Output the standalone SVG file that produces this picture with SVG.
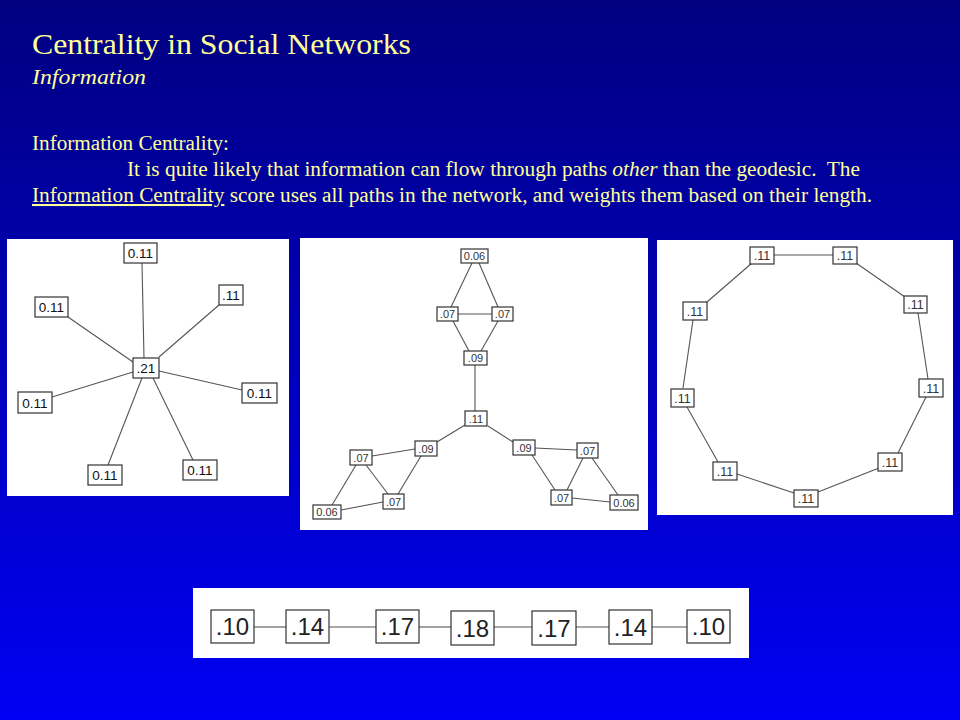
<svg xmlns="http://www.w3.org/2000/svg" width="960" height="720" viewBox="0 0 960 720">
<defs>
<linearGradient id="bg" x1="0" y1="0" x2="0" y2="1">
<stop offset="0" stop-color="#000080"/>
<stop offset="1" stop-color="#0000f4"/>
</linearGradient>
<style>
.t{font-family:"Liberation Serif","Times New Roman",serif;fill:#ffff99}
.panel{fill:#ffffff}
.box{fill:#ffffff;stroke:#333333;stroke-width:1.2}
.e{stroke:#555555;stroke-width:1.1;fill:none}
.lbl{font-family:"Liberation Sans",Arial,sans-serif;fill:#111111;text-anchor:middle}
.s1{font-size:13.5px}
.s2{font-size:11px;fill:#333}
.s3{font-size:12.5px;fill:#333}
.s4{font-size:24px;fill:#222}
</style>
</defs>
<rect width="960" height="720" fill="url(#bg)"/>

<g id="title">
<text class="t" x="32" y="54" font-size="29" textLength="379" lengthAdjust="spacingAndGlyphs">Centrality in Social Networks</text>
<text class="t" x="32" y="84" font-size="22" font-style="italic" textLength="114" lengthAdjust="spacingAndGlyphs">Information</text>
<text class="t" x="32" y="150" font-size="20.5" textLength="197" lengthAdjust="spacingAndGlyphs">Information Centrality:</text>
<text class="t" x="127" y="176" font-size="20.5" xml:space="preserve" textLength="733" lengthAdjust="spacingAndGlyphs">It is quite likely that information can flow through paths <tspan font-style="italic">other</tspan> than the geodesic.  The</text>
<text class="t" x="32" y="202" font-size="20.5" textLength="840" lengthAdjust="spacingAndGlyphs"><tspan text-decoration="underline">Information Centrality</tspan> score uses all paths in the network, and weights them based on their length.</text>
</g>

<!-- Panel 1: star -->
<rect class="panel" x="7" y="239" width="282" height="257"/>
<g id="star-edges">
<line class="e" x1="144" y1="358" x2="142" y2="263"/>
<line class="e" x1="159" y1="357" x2="219" y2="305"/>
<line class="e" x1="133" y1="362" x2="68" y2="317"/>
<line class="e" x1="159" y1="371" x2="242" y2="390"/>
<line class="e" x1="133" y1="372" x2="52" y2="397"/>
<line class="e" x1="142" y1="378" x2="108" y2="465"/>
<line class="e" x1="153" y1="378" x2="193" y2="460"/>
</g>
<g id="s-center"><rect class="box" x="133" y="358" width="26" height="20"/><text class="lbl s1" x="146" y="373">.21</text></g>
<g id="s-top"><rect class="box" x="124" y="243" width="33" height="20"/><text class="lbl s1" x="140.5" y="258">0.11</text></g>
<g id="s-tr"><rect class="box" x="219" y="285" width="24" height="20"/><text class="lbl s1" x="231" y="300">.11</text></g>
<g id="s-ul"><rect class="box" x="35" y="297" width="33" height="20"/><text class="lbl s1" x="51.5" y="312">0.11</text></g>
<g id="s-r"><rect class="box" x="242" y="383" width="35" height="20"/><text class="lbl s1" x="259.5" y="398">0.11</text></g>
<g id="s-ll"><rect class="box" x="18" y="392" width="34" height="21"/><text class="lbl s1" x="35" y="407.5">0.11</text></g>
<g id="s-b"><rect class="box" x="88" y="465" width="34" height="20"/><text class="lbl s1" x="105" y="480">0.11</text></g>
<g id="s-br"><rect class="box" x="183" y="460" width="34" height="20"/><text class="lbl s1" x="200" y="475">0.11</text></g>

<!-- Panel 2: three clusters -->
<rect class="panel" x="300" y="238" width="348" height="292"/>
<g id="mid-edges">
<line class="e" x1="472" y1="263" x2="451" y2="307"/>
<line class="e" x1="479" y1="263" x2="498" y2="307"/>
<line class="e" x1="458" y1="314" x2="492" y2="314"/>
<line class="e" x1="453" y1="321" x2="469" y2="351"/>
<line class="e" x1="498" y1="321" x2="481" y2="351"/>
<line class="e" x1="475" y1="365" x2="475" y2="411"/>
<line class="e" x1="465" y1="425" x2="437" y2="442"/>
<line class="e" x1="488" y1="426" x2="513" y2="442"/>
<line class="e" x1="415" y1="449" x2="372" y2="456"/>
<line class="e" x1="421" y1="456" x2="398" y2="494"/>
<line class="e" x1="366" y1="465" x2="388" y2="494"/>
<line class="e" x1="356" y1="465" x2="332" y2="505"/>
<line class="e" x1="341" y1="510" x2="383" y2="502"/>
<line class="e" x1="535" y1="448" x2="577" y2="450"/>
<line class="e" x1="532" y1="455" x2="555" y2="490"/>
<line class="e" x1="583" y1="458" x2="567" y2="490"/>
<line class="e" x1="592" y1="458" x2="618" y2="495"/>
<line class="e" x1="572" y1="498" x2="610" y2="502"/>
</g>
<g id="m-top"><rect class="box" x="461" y="249" width="27" height="14"/><text class="lbl s2" x="474.5" y="260">0.06</text></g>
<g id="m-07l"><rect class="box" x="437" y="307" width="21" height="14"/><text class="lbl s2" x="447.5" y="318">.07</text></g>
<g id="m-07r"><rect class="box" x="492" y="307" width="21" height="14"/><text class="lbl s2" x="502.5" y="318">.07</text></g>
<g id="m-09t"><rect class="box" x="464" y="351" width="23" height="14"/><text class="lbl s2" x="475.5" y="362">.09</text></g>
<g id="m-11"><rect class="box" x="465" y="411" width="22" height="15"/><text class="lbl s2" x="476" y="422.5">.11</text></g>
<g id="m-09l"><rect class="box" x="415" y="441" width="22" height="15"/><text class="lbl s2" x="426" y="452.5">.09</text></g>
<g id="m-07ll"><rect class="box" x="350" y="450" width="22" height="15"/><text class="lbl s2" x="361" y="461.5">.07</text></g>
<g id="m-07lb"><rect class="box" x="383" y="494" width="21" height="15"/><text class="lbl s2" x="393.5" y="505.5">.07</text></g>
<g id="m-06l"><rect class="box" x="313" y="505" width="28" height="14"/><text class="lbl s2" x="327" y="516">0.06</text></g>
<g id="m-09r"><rect class="box" x="513" y="440" width="22" height="15"/><text class="lbl s2" x="524" y="451.5">.09</text></g>
<g id="m-07rr"><rect class="box" x="577" y="443" width="21" height="15"/><text class="lbl s2" x="587.5" y="454.5">.07</text></g>
<g id="m-07rb"><rect class="box" x="551" y="490" width="21" height="15"/><text class="lbl s2" x="561.5" y="501.5">.07</text></g>
<g id="m-06r"><rect class="box" x="610" y="495" width="28" height="15"/><text class="lbl s2" x="624" y="506.5">0.06</text></g>

<!-- Panel 3: ring -->
<rect class="panel" x="657" y="240" width="296" height="275"/>
<g id="ring-edges">
<line class="e" x1="774" y1="255" x2="833" y2="255"/>
<line class="e" x1="856" y1="263" x2="905" y2="297"/>
<line class="e" x1="918" y1="313" x2="928" y2="379"/>
<line class="e" x1="926" y1="397" x2="898" y2="453"/>
<line class="e" x1="879" y1="468" x2="818" y2="492"/>
<line class="e" x1="794" y1="493" x2="737" y2="474"/>
<line class="e" x1="718" y1="462" x2="687" y2="407"/>
<line class="e" x1="683" y1="388" x2="693" y2="320"/>
<line class="e" x1="707" y1="302" x2="752" y2="263"/>
</g>
<g id="r1"><rect class="box" x="750" y="247" width="24" height="17"/><text class="lbl s3" x="762" y="260">.11</text></g>
<g id="r2"><rect class="box" x="833" y="247" width="24" height="17"/><text class="lbl s3" x="845" y="260">.11</text></g>
<g id="r3"><rect class="box" x="904" y="296" width="23" height="17"/><text class="lbl s3" x="915.5" y="309">.11</text></g>
<g id="r4"><rect class="box" x="919" y="379" width="24" height="18"/><text class="lbl s3" x="931" y="392.5">.11</text></g>
<g id="r5"><rect class="box" x="878" y="453" width="24" height="18"/><text class="lbl s3" x="890" y="466.5">.11</text></g>
<g id="r6"><rect class="box" x="794" y="490" width="24" height="17"/><text class="lbl s3" x="806" y="503">.11</text></g>
<g id="r7"><rect class="box" x="713" y="462" width="24" height="18"/><text class="lbl s3" x="725" y="475.5">.11</text></g>
<g id="r8"><rect class="box" x="671" y="389" width="23" height="18"/><text class="lbl s3" x="682.5" y="402.5">.11</text></g>
<g id="r9"><rect class="box" x="683" y="302" width="24" height="18"/><text class="lbl s3" x="695" y="315.5">.11</text></g>

<!-- Panel 4: line -->
<rect class="panel" x="193" y="588" width="556" height="70"/>
<g id="line-edges">
<line class="e" x1="254" y1="627" x2="286" y2="627" stroke="#222" stroke-width="1.4"/>
<line class="e" x1="329" y1="627" x2="376" y2="627" stroke="#222" stroke-width="1.4"/>
<line class="e" x1="419" y1="627" x2="451" y2="627" stroke="#222" stroke-width="1.4"/>
<line class="e" x1="494" y1="627" x2="532" y2="627" stroke="#222" stroke-width="1.4"/>
<line class="e" x1="576" y1="627" x2="609" y2="627" stroke="#222" stroke-width="1.4"/>
<line class="e" x1="652" y1="627" x2="687" y2="627" stroke="#222" stroke-width="1.4"/>
</g>
<g id="l1"><rect class="box" x="211" y="610" width="43" height="33"/><text class="lbl s4" x="232.5" y="635">.10</text></g>
<g id="l2"><rect class="box" x="286" y="610" width="43" height="33"/><text class="lbl s4" x="307.5" y="635">.14</text></g>
<g id="l3"><rect class="box" x="376" y="610" width="43" height="33"/><text class="lbl s4" x="397.5" y="635">.17</text></g>
<g id="l4"><rect class="box" x="451" y="611" width="43" height="34"/><text class="lbl s4" x="472.5" y="636.5">.18</text></g>
<g id="l5"><rect class="box" x="532" y="611" width="44" height="34"/><text class="lbl s4" x="554" y="636.5">.17</text></g>
<g id="l6"><rect class="box" x="609" y="610" width="43" height="34"/><text class="lbl s4" x="630.5" y="635.5">.14</text></g>
<g id="l7"><rect class="box" x="687" y="610" width="43" height="33"/><text class="lbl s4" x="708.5" y="635">.10</text></g>
</svg>
